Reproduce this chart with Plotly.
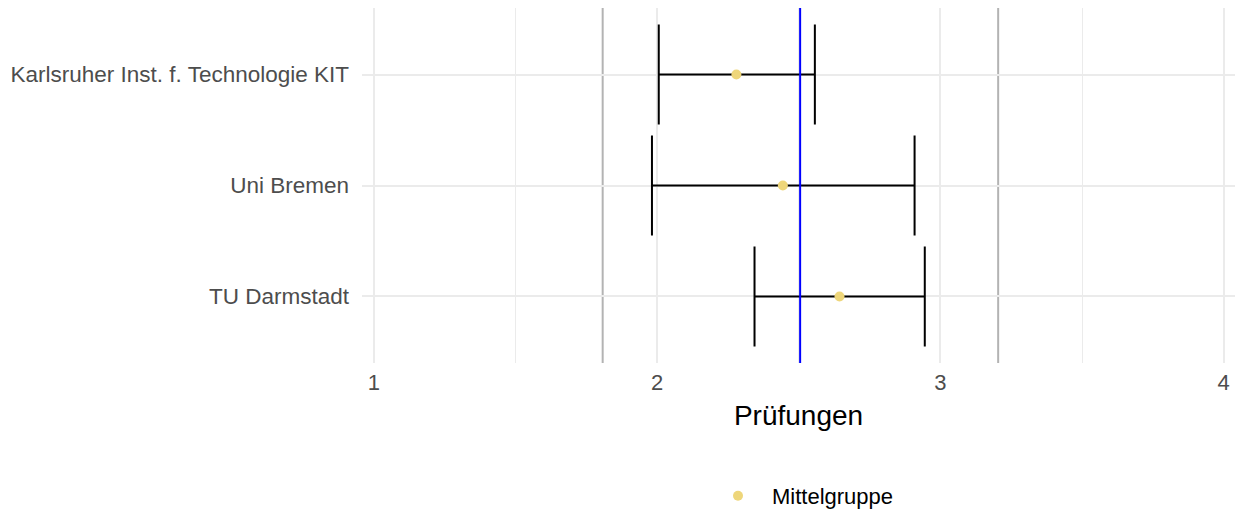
import plotly.graph_objects as go

categories = ["Karlsruher Inst. f. Technologie KIT", "Uni Bremen", "TU Darmstadt"]
means = [2.28, 2.444, 2.644]
lower = [2.006, 1.982, 2.344]
upper = [2.557, 2.909, 2.945]
overall_mean = 2.505
band = [1.808, 3.204]
x_ticks = [1, 2, 3, 4]
legend_name = "Mittelgruppe"
x_title = "Prüfungen"

font_family = "Liberation Sans, Arial, sans-serif"

fig = go.Figure()

# vertical reference lines (drawn below data)
for b in band:
    fig.add_shape(type="line", xref="x", yref="paper", x0=b, x1=b, y0=0, y1=1,
                  line=dict(color="#b3b3b3", width=2), layer="below")

# error bars
fig.add_trace(go.Scatter(
    x=means, y=categories, mode="markers",
    marker=dict(size=1, color="rgba(0,0,0,0)"),
    error_x=dict(type="data", symmetric=False,
                 array=[u - m for u, m in zip(upper, means)],
                 arrayminus=[m - l for m, l in zip(means, lower)],
                 color="black", thickness=2, width=50),
    showlegend=False, hoverinfo="skip"))

fig.add_shape(type="line", xref="x", yref="paper", x0=overall_mean, x1=overall_mean,
              y0=0, y1=1, line=dict(color="#0000ff", width=2), layer="above")

# mean points
fig.add_trace(go.Scatter(
    x=means, y=categories, mode="markers", name=legend_name,
    marker=dict(size=10, color="#EED67A"), showlegend=True))

fig.update_layout(
    width=1235, height=515,
    margin=dict(l=362, r=0, t=8, b=152, autoexpand=False),
    paper_bgcolor="white", plot_bgcolor="white",
    font=dict(family=font_family, color="black"),
    showlegend=True,
    legend=dict(orientation="h", x=(704 - 362) / 873, xanchor="left",
                y=-0.3746, yanchor="middle", font=dict(size=22, color="black"),
                itemwidth=58),
    xaxis=dict(range=[0.9585, 4.04], tickvals=x_ticks, ticktext=[str(t) for t in x_ticks],
               automargin=False,
               showgrid=True, gridcolor="#ebebeb", gridwidth=1.5,
               minor=dict(dtick=0.5, showgrid=True, gridcolor="#ebebeb", gridwidth=1),
               zeroline=False, showline=False, ticks="",
               tickfont=dict(size=22, color="#4d4d4d"),
               ticklabelstandoff=4,
               title=dict(text=x_title, font=dict(size=28, color="black"), standoff=11)),
    yaxis=dict(type="category", categoryarray=categories[::-1], range=[-0.6, 2.6],
               automargin=False,
               showgrid=True, gridcolor="#ebebeb", gridwidth=1.5,
               zeroline=False, showline=False, ticks="",
               tickfont=dict(size=22.5, color="#4d4d4d"),
               ticklabelstandoff=12),
)

fig.write_html("out.html", config={"displayModeBar": False},
               post_script="document.body.style.margin='0';document.body.style.overflow='hidden';")
